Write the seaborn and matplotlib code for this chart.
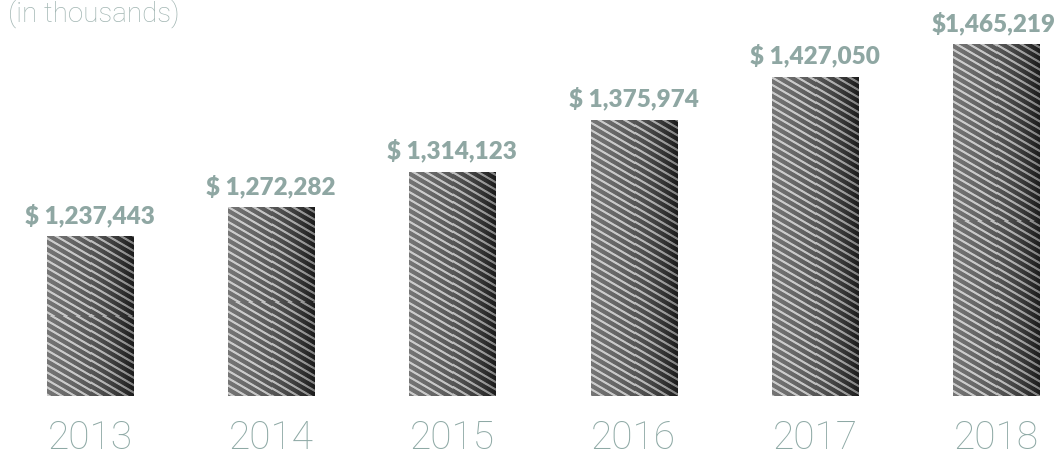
import numpy as np
import pandas as pd
import matplotlib
matplotlib.use("Agg")
import matplotlib.pyplot as plt
import seaborn as sns

years = ["2013", "2014", "2015", "2016", "2017", "2018"]
values = [1237443, 1272282, 1314123, 1375974, 1427050, 1465219]
value_labels = ["$ 1,237,443", "$ 1,272,282", "$ 1,314,123", "$ 1,375,974",
                "$ 1,427,050", "$1,465,219"]
subtitle = "(in thousands)"

sns.set_style("white")
plt.rcParams['font.family'] = ['Lato', 'DejaVu Sans']

df = pd.DataFrame({"year": years, "value": values})

DPI = 100
fig = plt.figure(figsize=(10.59, 4.59), dpi=DPI)
ax = fig.add_axes([0, 63 / 459, 1, 396 / 459])

sns.barplot(data=df, x="year", y="value", order=years, color="#444444",
            width=0.475, ax=ax, saturation=1)

YMIN, YMAX = 1048800, 1518560
XMIN, XMAX = -0.4967, 5.3477
ax.set_ylim(YMIN, YMAX)
ax.set_xlim(XMIN, XMAX)


def bar_texture(wpx, hpx, seed_shift):
    # horizontal gray gradient with shallow diagonal light stripes
    cols = np.arange(wpx)[None, :]
    rows = np.arange(hpx)[:, None]
    t = cols / max(wpx - 1, 1)
    base = 0.46 - 0.20 * t - 0.15 * t ** 3
    phase = (rows - 0.58 * cols + seed_shift) % 7.4
    stripe = np.clip((1.7 - np.abs(phase - 2.0)) / 0.9, 0, 1)
    stripe_strength = 1.0 - 0.45 * t ** 2
    light = 0.80
    img = base + (light - base) * stripe * stripe_strength
    img = np.repeat(img[:, :, None], 3, axis=2)
    return np.clip(img, 0, 1)


for k, p in enumerate(ax.patches):
    x0 = p.get_x()
    w, h = p.get_width(), p.get_height()
    top = p.get_y() + h
    (px0, py0) = ax.transData.transform((x0, YMIN))
    (px1, py1) = ax.transData.transform((x0 + w, top))
    wpx = int(round(px1 - px0))
    hpx = int(round(py1 - py0))
    tex = bar_texture(wpx, hpx, k * 2.3)
    ax.imshow(tex, aspect="auto", extent=[x0, x0 + w, YMIN, top],
              zorder=2, interpolation="none")
    p.set_visible(False)

ax.set_xlim(XMIN, XMAX)
ax.set_ylim(YMIN, YMAX)

label_color = "#8fa7a3"
for i, (v, lab) in enumerate(zip(values, value_labels)):
    ax.annotate(lab, (i, v), xytext=(-2 if i == 5 else 0, 7),
                textcoords="offset points",
                ha="center", va="bottom", fontsize=17.5, fontweight="heavy",
                color=label_color)

for i, y in enumerate(years):
    ax.text(i, -0.106, y, transform=ax.get_xaxis_transform(),
            ha="center", va="center", fontsize=28, fontweight="light",
            family=["Roboto", "DejaVu Sans"], color="#8ea9a5")

fig.text(8 / 1059, 1 - 14 / 459, subtitle, ha="left", va="center",
         fontsize=20, fontweight="light", family=["Roboto", "DejaVu Sans"],
         color="#a2b6b3")

ax.set_xticks([])
ax.set_yticks([])
ax.set_xlabel("")
ax.set_ylabel("")
for s in ax.spines.values():
    s.set_visible(False)

fig.savefig("out.png", dpi=DPI, facecolor="white")
